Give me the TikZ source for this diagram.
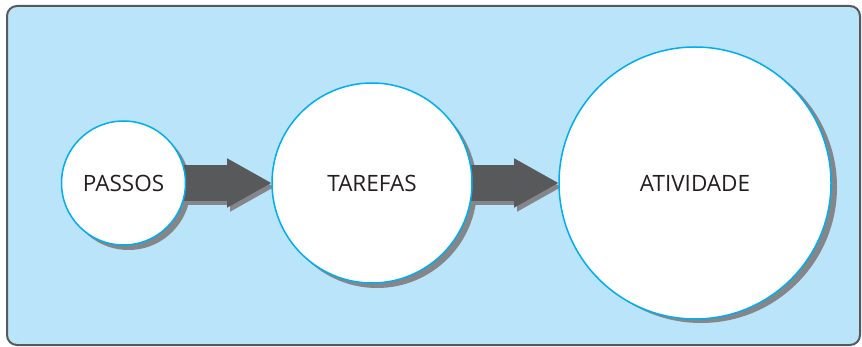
\documentclass[tikz,border=0pt]{standalone}
\usepackage{fontspec}
\setmainfont{Open Sans}
\usetikzlibrary{arrows.meta,calc}
\definecolor{bgblue}{HTML}{B9E4F9}
\definecolor{framegray}{HTML}{58595B}
\definecolor{cyanline}{HTML}{00AEEF}
\definecolor{arrowdark}{HTML}{58595B}
\definecolor{shadowgray}{HTML}{858689}
\definecolor{txt}{HTML}{231F20}
\pgfdeclarelayer{back}
\pgfdeclarelayer{mid}
\pgfsetlayers{back,mid,main}
\begin{document}
\begin{tikzpicture}[x=1pt,y=-1pt,
  stage/.style={circle, draw=cyanline, line width=1.5pt, fill=white, inner sep=0pt, outer sep=0pt, text=txt, font=\fontsize{22.5}{26}\selectfont},
  flow/.style={line width=36pt, draw=arrowdark, -{Triangle[length=45pt,width=46pt]}},
  flowshadow/.style={flow, draw=shadowgray},
  shade/.style={fill=shadowgray}]
\useasboundingbox (0,0) rectangle (862,347);
\node[stage, minimum size=124pt] (p) at (123.5,183) {PASSOS};
\node[stage, minimum size=200pt] (t) at (372,183) {TAREFAS};
\node[stage, minimum size=272pt] (a) at (695,183) {ATIVIDADE};
\begin{pgfonlayer}{back}
  \draw[framegray, line width=2pt, fill=bgblue, rounded corners=10pt] (7,6) rectangle (860,345);
  \fill[shade] ([shift={(5,5)}]p.center) circle[radius=62pt];
  \fill[shade] ([shift={(5,5)}]t.center) circle[radius=100pt];
  \fill[shade] ([shift={(6,4)}]a.center) circle[radius=136pt];
\end{pgfonlayer}
\begin{pgfonlayer}{mid}
  \draw[flowshadow] ([shift={(3,4)}]p.center) -- ([shift={(3,4)}]t.west);
  \draw[flowshadow] ([shift={(3,4)}]t.center) -- ([shift={(3,4)}]a.west);
  \draw[flow] (p.center) -- (t.west);
  \draw[flow] (t.center) -- (a.west);
\end{pgfonlayer}
\end{tikzpicture}
\end{document}
